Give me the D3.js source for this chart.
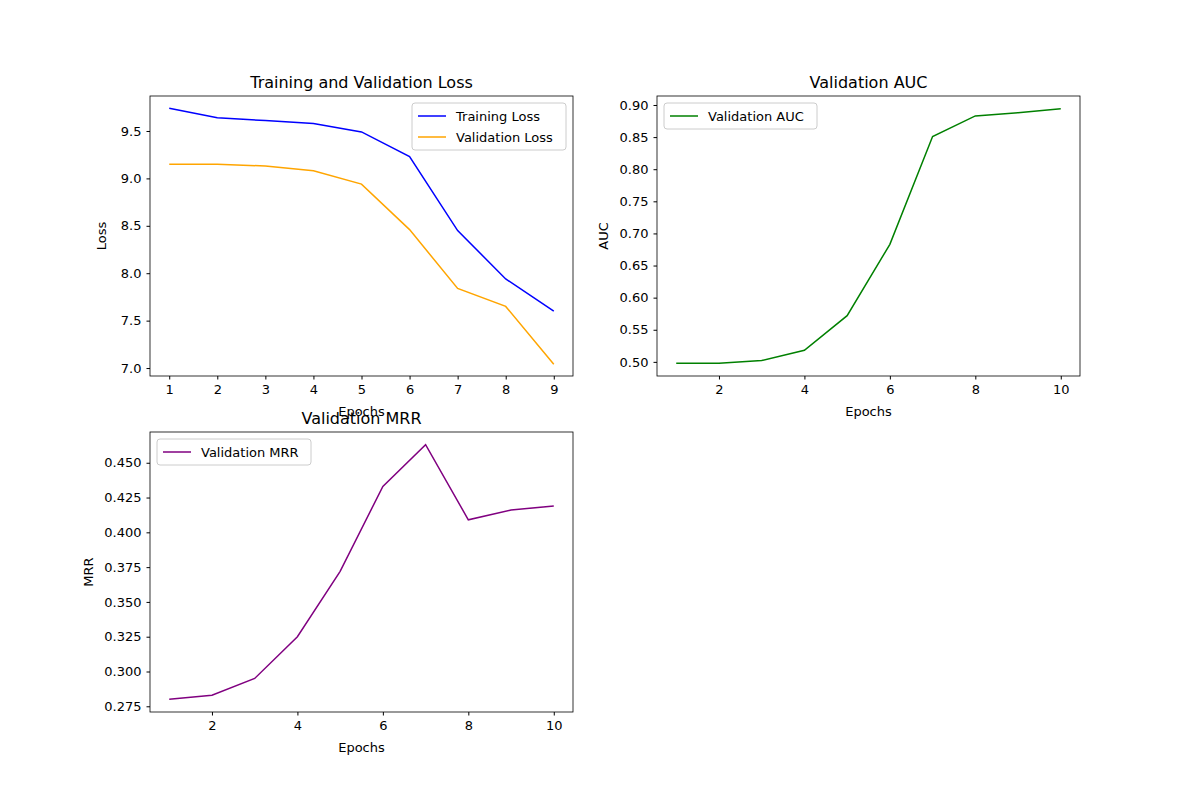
<!DOCTYPE html>
<html><head><meta charset="utf-8">
<script src="https://cdn.jsdelivr.net/npm/d3@7"></script>
<style>body{margin:0;background:#fff}text{font-family:"DejaVu Sans",sans-serif}</style>
</head><body><div id="chart"></div>
<script>
// data
var lossEpochs   = [1,2,3,4,5,6,7,8,9];
var trainLoss    = [9.74,9.64,9.61,9.58,9.49,9.23,8.45,7.94,7.60];
var valLoss      = [9.15,9.15,9.13,9.08,8.94,8.46,7.84,7.65,7.04];
var metricEpochs = [1,2,3,4,5,6,7,8,9,10];
var valAUC       = [0.498,0.498,0.502,0.518,0.572,0.683,0.851,0.883,0.888,0.894];
var valMRR       = [0.280,0.283,0.295,0.325,0.372,0.433,0.463,0.409,0.416,0.419];
var lossTicks    = [7.0,7.5,8.0,8.5,9.0,9.5];
var aucTicks     = [0.50,0.55,0.60,0.65,0.70,0.75,0.80,0.85,0.90];
var mrrTicks     = [0.275,0.300,0.325,0.350,0.375,0.400,0.425,0.450];

var svg = d3.select('#chart').append('svg').attr('width',1200).attr('height',800);

function panel(o){
  var g = svg.append('g').attr('transform','translate('+o.x+','+o.y+')');
  var w = 423, h = 280;
  var xs = d3.scaleLinear().domain(o.xd).range([0,w]);
  var ys = d3.scaleLinear().domain(o.yd).range([h,0]);
  var xa = g.append('g').attr('transform','translate(0,'+h+')')
    .call(d3.axisBottom(xs).tickValues(o.xt).tickSize(3.5).tickPadding(5).tickFormat(d3.format('d')));
  var ya = g.append('g').call(d3.axisLeft(ys).tickValues(o.yt).tickSize(3.5).tickPadding(5).tickFormat(d3.format(o.yf)));
  [xa,ya].forEach(function(a){a.select('.domain').remove();a.selectAll('text').attr('font-size',13).attr('fill','#000');a.selectAll('line').attr('stroke','#000');});
  o.series.forEach(function(s){
    g.append('path').datum(s.v).attr('fill','none').attr('stroke',s.c).attr('stroke-width',1.5)
      .attr('d', d3.line().x(function(d,i){return xs(o.xs[i]);}).y(function(d){return ys(d);}));
  });
  g.append('rect').attr('width',w).attr('height',h).attr('fill','none').attr('stroke','#000').attr('stroke-width',0.8);
  g.append('text').attr('x',w/2).attr('y',-8).attr('text-anchor','middle').attr('font-size',16).text(o.title);
  // as in the reference, the lower panel's title sits on this label
  g.append('text').attr('x',w/2).attr('y',h+40).attr('text-anchor','middle').attr('font-size',13).text('Epochs');
  g.append('text').attr('transform','translate('+o.yl+','+(h/2)+') rotate(-90)').attr('text-anchor','middle').attr('font-size',13).text(o.ylabel);
  var lw = o.lw, lh = o.series.length*21+5;
  var lx = o.legRight ? w-lw-7 : 7;
  var lg = g.append('g').attr('transform','translate('+lx+',7)');
  lg.append('rect').attr('width',lw).attr('height',lh).attr('rx',3).attr('fill','#fff').attr('fill-opacity',0.8).attr('stroke','#ccc');
  o.series.forEach(function(s,i){
    var yy = 13+i*21;
    lg.append('line').attr('x1',6).attr('x2',34).attr('y1',yy).attr('y2',yy).attr('stroke',s.c).attr('stroke-width',1.5);
    lg.append('text').attr('x',44).attr('y',yy+4.5).attr('font-size',13).text(s.n);
  });
}

panel({x:150,y:96,xd:[0.6,9.4],yd:[6.916,9.869],xs:lossEpochs,xt:lossEpochs,yt:lossTicks,yf:'.1f',
  title:'Training and Validation Loss',ylabel:'Loss',yl:-44,legRight:true,lw:154,
  series:[{v:trainLoss,c:'blue',n:'Training Loss'},{v:valLoss,c:'orange',n:'Validation Loss'}]});
panel({x:657,y:96,xd:[0.55,10.45],yd:[0.478,0.914],xs:metricEpochs,xt:[2,4,6,8,10],yt:aucTicks,yf:'.2f',
  title:'Validation AUC',ylabel:'AUC',yl:-49,legRight:false,lw:153,
  series:[{v:valAUC,c:'green',n:'Validation AUC'}]});
panel({x:150,y:432,xd:[0.55,10.45],yd:[0.2709,0.4721],xs:metricEpochs,xt:[2,4,6,8,10],yt:mrrTicks,yf:'.3f',
  title:'Validation MRR',ylabel:'MRR',yl:-57,legRight:false,lw:154,
  series:[{v:valMRR,c:'purple',n:'Validation MRR'}]});
</script></body></html>
